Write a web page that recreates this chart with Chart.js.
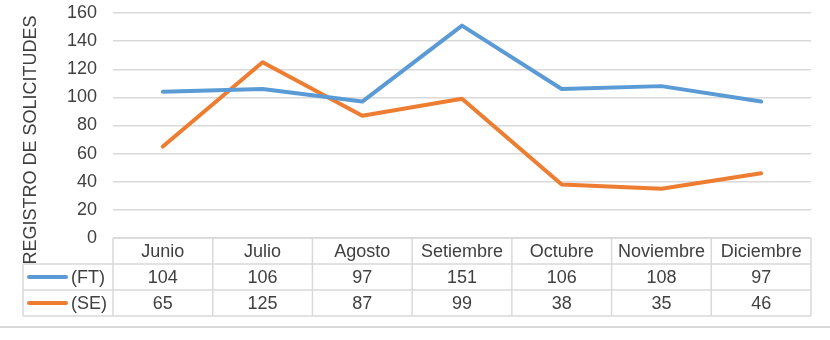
<!DOCTYPE html>
<html>
<head>
<meta charset="utf-8">
<script src="https://cdn.jsdelivr.net/npm/chart.js@4.4.0/dist/chart.umd.min.js"></script>
<style>
  html, body { margin: 0; padding: 0; background: #fff; }
  #wrap { width: 830px; height: 340px; position: relative; }
</style>
</head>
<body>
<div id="wrap"><canvas id="chRegistro"></canvas></div>
<script>
// Registro de solicitudes por mes (line chart + data table)

const months = ['Junio', 'Julio', 'Agosto', 'Setiembre', 'Octubre', 'Noviembre', 'Diciembre'];
const ftValues = [104, 106, 97, 151, 106, 108, 97];
const seValues = [65, 125, 87, 99, 38, 35, 46];
const seriesNames = ['(FT)', '(SE)'];
const yTitle = 'REGISTRO DE SOLICITUDES';

const FONT = '"Liberation Sans", Arial, sans-serif';
const TXT = '#404040';
const GRID = '#d9d9d9';
const BLUE = '#5b9bd5';
const ORANGE = '#ed7d31';

// draws the data table under the plot, plus the rotated axis title
const tablePlugin = {
    id: 'dataTable',
    afterDraw(chart) {
        const ctx = chart.ctx;
        const area = chart.chartArea;
        const xs = chart.scales.x;
        const colW = (area.right - area.left) / months.length;
        const rowH = 26;
        const top = area.bottom;
        const legendLeft = 23;

        ctx.save();
        ctx.strokeStyle = GRID;
        ctx.lineWidth = 1.5;

        // horizontal lines
        ctx.beginPath();
        ctx.moveTo(area.left, top); ctx.lineTo(area.right, top);
        for (let r = 1; r <= 3; r++) {
            ctx.moveTo(legendLeft, top + r * rowH);
            ctx.lineTo(area.right, top + r * rowH);
        }
        // vertical lines
        ctx.moveTo(legendLeft, top + rowH); ctx.lineTo(legendLeft, top + 3 * rowH);
        for (let c = 0; c <= months.length; c++) {
            let x = area.left + c * colW;
            ctx.moveTo(x, top); ctx.lineTo(x, top + 3 * rowH);
        }
        ctx.stroke();

        // text
        ctx.fillStyle = TXT;
        ctx.font = '18px ' + FONT;
        ctx.textAlign = 'center';
        ctx.textBaseline = 'middle';
        const rows = [months, ftValues, seValues];
        rows.forEach((row, r) => {
            row.forEach((v, i) => {
                ctx.fillText(String(v), xs.getPixelForValue(i), top + r * rowH + rowH / 2 + 1);
            });
        });

        // legend keys
        const colors = [BLUE, ORANGE];
        seriesNames.forEach((name, k) => {
            let y = top + (k + 1) * rowH + rowH / 2;
            ctx.strokeStyle = colors[k];
            ctx.lineWidth = 4;
            ctx.lineCap = 'round';
            ctx.beginPath();
            ctx.moveTo(29, y); ctx.lineTo(66, y);
            ctx.stroke();
            ctx.textAlign = 'left';
            ctx.fillText(name, 71, y + 1);
        });

        // bottom separator
        ctx.strokeStyle = GRID;
        ctx.lineWidth = 2;
        ctx.lineCap = 'butt';
        ctx.beginPath();
        ctx.moveTo(0, 327); ctx.lineTo(830, 327);
        ctx.stroke();

        // y axis title
        ctx.translate(30, 140);
        ctx.rotate(-Math.PI / 2);
        ctx.textAlign = 'center';
        ctx.fillStyle = TXT;
        ctx.fillText(yTitle, 0, 1);
        ctx.restore();
    }
};

new Chart(document.getElementById('chRegistro').getContext('2d'), {
    type: 'line',
    data: {
        labels: months,
        datasets: [
            { label: seriesNames[0], data: ftValues, borderColor: BLUE, backgroundColor: BLUE },
            { label: seriesNames[1], data: seValues, borderColor: ORANGE, backgroundColor: ORANGE }
        ]
    },
    options: {
        responsive: true,
        maintainAspectRatio: false,
        animation: false,
        layout: { padding: { top: 13, right: 19, bottom: 102, left: 0 } },
        elements: {
            line: { borderWidth: 4, tension: 0, borderCapStyle: 'round', borderJoinStyle: 'round' },
            point: { radius: 0, hoverRadius: 0 }
        },
        scales: {
            x: {
                display: false,
                offset: true
            },
            y: {
                min: 0,
                max: 160,
                afterFit(scale) {
                    scale.width = 113;
                    scale.paddingTop = 0;
                    scale.paddingBottom = 0;
                },
                ticks: { stepSize: 20, color: TXT, padding: 16, font: { family: FONT, size: 18 } },
                grid: { color: GRID, lineWidth: 1.5, drawTicks: false },
                border: { display: false }
            }
        },
        plugins: {
            legend: { display: false },
            tooltip: { enabled: false }
        }
    },
    plugins: [tablePlugin]
});
</script>
</body>
</html>
